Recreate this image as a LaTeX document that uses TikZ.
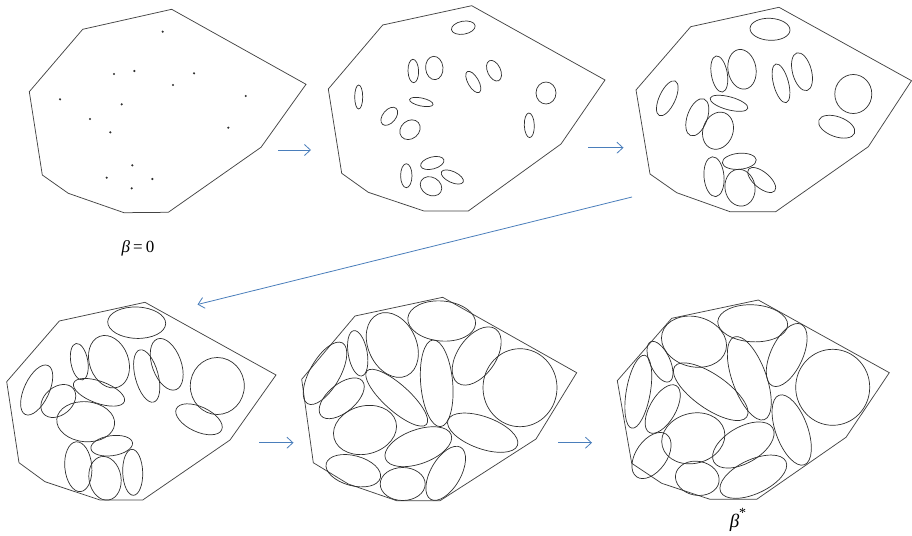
\documentclass[tikz,border=0pt]{standalone}
\usepackage{fontspec}
\setmainfont{Liberation Serif}
\usetikzlibrary{arrows.meta}
\definecolor{arrblue}{HTML}{4A7EBB}
\definecolor{polyc}{HTML}{444444}
\definecolor{elc}{HTML}{2E2E2E}
\begin{document}
\begin{tikzpicture}[x=1pt,y=-1pt,
  poly/.style={draw=polyc,line width=0.75pt,line join=miter},
  el/.style={draw=elc,line width=0.7pt},
  flow/.style={draw=arrblue,line width=0.8pt,-{Straight Barb[length=6pt,width=11pt]}},
  lbl/.style={inner sep=0pt,font=\fontsize{17}{20}\selectfont}]
\useasboundingbox (0,0) rectangle (912,535);
% panel 1
\draw[poly] (171.7,9.3) -- (306,84.3) -- (261,147.3) -- (168.3,212.3) -- (124,212.7) -- (68.3,193.3) -- (42.3,175) -- (29.3,91.7) -- (82.7,29.3) -- cycle;
\foreach \x/\y in {162.7/31.7,114/74,134.3/71,194/73.3,173/85,245.7/96,60/99.3,121.7/104.3,90/119,110.3/132.3,228.3/127.7,132.3/165.3,106.7/177.7,152.3/179,131.7/188.3}
  \fill[elc] (\x,\y) circle[radius=1.2];
\node[lbl] (b0) at (138,248) {\textit{β}\kern3pt=\kern3pt0};
% panel 2
\draw[poly] (471.7,5.7) -- (605,80) -- (561,144) -- (468.3,211) -- (424,211) -- (368.3,192.3) -- (341.7,173.3) -- (328.3,89) -- (382.7,25) -- cycle;
\foreach \x/\y/\a/\b/\t in {463.3/27.7/12/6.5/10, 413.3/71/11.7/5.3/92, 434.3/68/11.7/8.7/95, 473.3/82/12/5.3/-60, 494/70.7/11/6.5/-65, 358.7/97/12/4/90, 421.3/102/12/4/-12, 389.3/116.3/10.5/6.5/50, 410/129.7/11/9/40, 546/93/11/10/90, 529.3/125.3/12.3/5/92, 406.3/175.7/12/5.7/90, 432.3/163/12/6/15, 431/186.3/11.3/9/-30, 452.3/177/12/5.5/-25}
  \draw[el] (\x,\y) ellipse[x radius=\a, y radius=\b, rotate=\t];
% panel 3
\draw[poly] (779,7.3) -- (911.5,80.7) -- (868.3,146.7) -- (775.7,211.7) -- (730,211.7) -- (676.7,192.7) -- (650,174) -- (636,90) -- (690.7,26.7) -- cycle;
\foreach \x/\y/\a/\b/\t in {770/29.3/20/11/-3, 719.3/74/18.3/8/100, 742/69.3/20/14/100, 781/83.3/20/7.5/105, 802/71.7/19.5/9.5/105, 853.3/94/19.5/18.5/90, 667.3/98.3/19/8/65, 729/103.3/19.5/6.5/-15, 697.3/117.3/19.5/10/70, 718/130.7/19/15/70, 836.7/126.7/19/10/-20, 714/176.7/20/10/95, 739.3/161.3/17/8/5, 740/187.7/18.5/15/100, 761.7/180/17/8/-40}
  \draw[el] (\x,\y) ellipse[x radius=\a, y radius=\b, rotate=\t];
% panel 4
\draw[poly] (145,302.3) -- (276,375) -- (230,440) -- (142.7,500) -- (100,500) -- (45,481.7) -- (19,462.7) -- (6.7,381.7) -- (59.3,321) -- cycle;
\foreach \x/\y/\a/\b/\t in {136.7/322.7/29/15.7/-2, 79.3/361.7/18.5/8.5/100, 109/361.7/27/19.5/110, 146.7/376/27/11.5/105, 166.7/364.3/27/14.5/110, 217.3/386/28.5/27/90, 36.7/390/27/12.5/65, 58.3/401/19.5/14/40, 99/392.3/27/11/-20, 85.7/421.7/29/20/-5, 199/419.3/25/12.5/-25, 78.3/466.7/25/13.5/95, 111.7/445.7/21/10/8, 105/478.3/22/16/100, 132.7/472.3/23/10/92}
  \draw[el] (\x,\y) ellipse[x radius=\a, y radius=\b, rotate=\t];
% panel 5
\draw[poly] (442.7,297.3) -- (576.7,372.7) -- (536,439) -- (440,500.7) -- (396.7,500.7) -- (348.3,484) -- (313.3,462.7) -- (301.7,379.3) -- (355,316) -- cycle;
\foreach \x/\y/\a/\b/\t in {441.7/321/34/20/-5, 392.3/345/34/24/115, 357.7/353.3/23/9.5/100, 325/373.3/35/15/60, 476.7/356/33/19/55, 520/387.7/39/37/90, 436.7/383.3/43.5/16/95, 396.7/397.7/40/13/-42, 341.7/398.3/27/14/40, 365/430/32/24/15, 418.3/446.7/35/17/20, 482.7/432.7/37/16/-20, 353.3/470.7/28/15/-15, 402.7/484/22.5/16.5/0, 445.7/473.3/30/15/60}
  \draw[el] (\x,\y) ellipse[x radius=\a, y radius=\b, rotate=\t];
% panel 6
\draw[poly] (758.3,300) -- (889.3,372.7) -- (846,437.3) -- (756.7,499.3) -- (710,499.3) -- (661.7,483.3) -- (631.7,463.3) -- (617.3,380.7) -- (671.7,318.3) -- cycle;
\foreach \x/\y/\a/\b/\t in {752.7/323.3/35/18.5/-3, 694/341.7/33/25/-15, 660/361.7/22/10/115, 638.3/391.7/37/12/80, 786.7/355/34/16/65, 832.7/387.3/38/37/90, 710.7/391.7/44/17/-35, 749.3/378.3/44/17/110, 662.7/409/27/13/60, 693.3/438.3/32/25/15, 651.5/455.5/26/15.5/55, 743.3/445/34/18/30, 791.7/430/37/16/110, 697.3/478.3/22/17/-10, 753.3/476.7/36/17/25}
  \draw[el] (\x,\y) ellipse[x radius=\a, y radius=\b, rotate=\t];
\node[lbl,font=\fontsize{19}{22}\selectfont] (bs) at (738,520) {\textit{β}\raisebox{1.1ex}{\fontsize{14}{16}\selectfont *}};
% arrows
\coordinate (a1s) at (278,150); \coordinate (a1e) at (311,150);
\coordinate (a2s) at (588,147.7); \coordinate (a2e) at (623.5,147.7);
\coordinate (a3s) at (632,197); \coordinate (a3e) at (197.5,304.5);
\coordinate (a4s) at (259.3,442.7); \coordinate (a4e) at (293.5,442.7);
\coordinate (a5s) at (558.3,442.7); \coordinate (a5e) at (592,442.7);
\draw[flow] (a1s) -- (a1e);
\draw[flow] (a2s) -- (a2e);
\draw[flow] (a3s) -- (a3e);
\draw[flow] (a4s) -- (a4e);
\draw[flow] (a5s) -- (a5e);
\end{tikzpicture}
\end{document}
